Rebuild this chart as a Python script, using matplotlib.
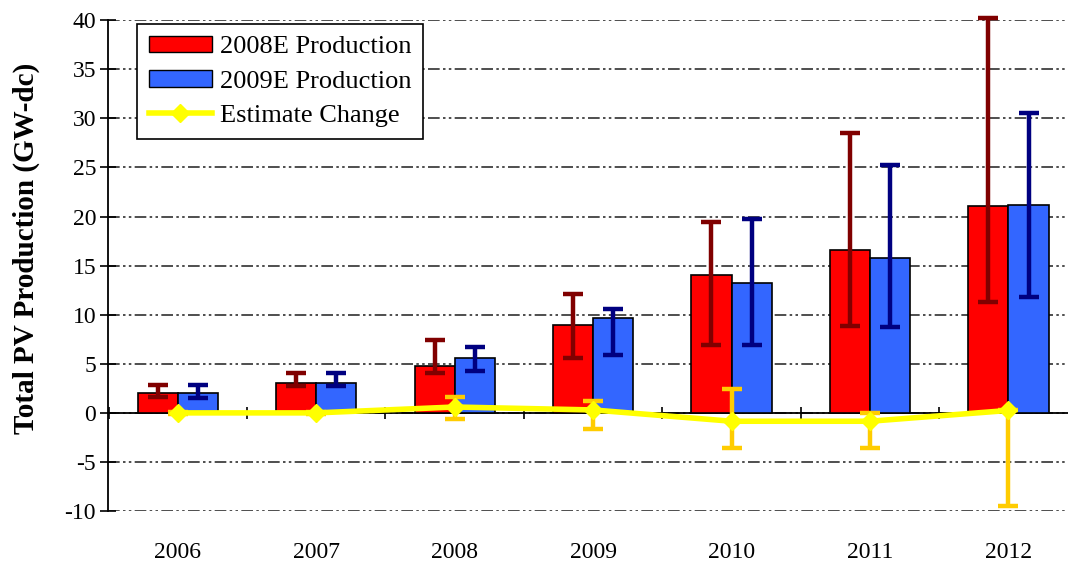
import numpy as np
import matplotlib
matplotlib.use("Agg")
import matplotlib.pyplot as plt
from matplotlib.patches import Patch
from matplotlib.lines import Line2D

years = ["2006", "2007", "2008", "2009", "2010", "2011", "2012"]

prod_2008e = [2.0, 3.0, 4.8, 9.0, 14.0, 16.6, 21.1]
prod_2008e_low = [1.6, 2.7, 4.1, 5.6, 6.9, 8.9, 11.3]
prod_2008e_high = [2.8, 4.1, 7.4, 12.1, 19.4, 28.5, 40.2]

prod_2009e = [2.0, 3.0, 5.6, 9.7, 13.2, 15.8, 21.2]
prod_2009e_low = [1.5, 2.7, 4.3, 5.9, 6.9, 8.8, 11.8]
prod_2009e_high = [2.8, 4.1, 6.7, 10.6, 19.7, 25.2, 30.5]

est_change = [0.0, 0.0, 0.6, 0.3, -0.85, -0.85, 0.25]
est_low = [-0.1, -0.1, -0.6, -1.6, -3.6, -3.6, -9.5]
est_high = [0.1, 0.1, 1.6, 1.2, 2.4, 0.0, 0.3]

plt.rcParams['font.family'] = ['Liberation Serif', 'DejaVu Serif']
plt.rcParams['axes.unicode_minus'] = False

fig = plt.figure(figsize=(10.68, 5.61), dpi=100)
ax = fig.add_axes([0.101, 0.089, 0.899, 0.875])

x = np.arange(len(years))
w = 0.29

def err(vals, lo, hi):
    vals = np.array(vals)
    return [vals - np.array(lo), np.array(hi) - vals]

ax.bar(x - w / 2, prod_2008e, w, color="#ff0000", edgecolor="black", linewidth=1.2, zorder=2)
ax.bar(x + w / 2, prod_2009e, w, color="#3366ff", edgecolor="black", linewidth=1.2, zorder=2)

ax.errorbar(x - w / 2, prod_2008e, yerr=err(prod_2008e, prod_2008e_low, prod_2008e_high),
            fmt="none", ecolor="#800000", elinewidth=3.2, capsize=7, capthick=3.2,
            zorder=3, clip_on=False)
ax.errorbar(x + w / 2, prod_2009e, yerr=err(prod_2009e, prod_2009e_low, prod_2009e_high),
            fmt="none", ecolor="#000080", elinewidth=3.2, capsize=7, capthick=3.2,
            zorder=3, clip_on=False)

# zero line with category divider ticks
zero = ax.secondary_xaxis(0.2)
zero.set_xticks(np.arange(len(years) + 1) - 0.5)
zero.tick_params(direction="inout", length=9, width=1.2, labelbottom=False)
zero.spines["bottom"].set_linewidth(1.3)
zero.set_zorder(1)

ax.errorbar(x, est_change, yerr=err(est_change, est_low, est_high),
            fmt="none", ecolor="#ffcc00", elinewidth=3.2, capsize=7, capthick=3.2,
            zorder=4, clip_on=False)
ax.plot(x, est_change, color="#ffff00", linewidth=4, marker="D",
        markersize=9, zorder=5, clip_on=False)

ax.set_xlim(-0.505, 6.43)
ax.set_ylim(-10, 40)
ax.set_yticks(np.arange(-10, 41, 5))
ax.yaxis.grid(True, color="#303030", linewidth=1.2, linestyle=(0, (7, 2, 1.5, 2, 1.5, 2)))
ax.set_axisbelow(True)

ax.set_xticks(x)
ax.set_xticklabels(years)
ax.tick_params(axis="x", length=0, pad=22, labelsize=17)
ax.tick_params(axis="y", direction="inout", length=11, width=1.2, labelsize=17, pad=3)

for s in ["top", "right", "bottom"]:
    ax.spines[s].set_visible(False)
ax.spines["left"].set_linewidth(1.3)

ax.set_ylabel("Total PV Production (GW-dc)", fontsize=21, fontweight="bold")
ax.yaxis.set_label_coords(-0.071, 0.536)

handles = [
    Patch(facecolor="#ff0000", edgecolor="black", label="2008E Production"),
    Patch(facecolor="#3366ff", edgecolor="black", label="2009E Production"),
    Line2D([], [], color="#ffff00", linewidth=4, marker="D", markersize=9,
           label="Estimate Change"),
]
leg = ax.legend(handles=handles, loc="upper left", bbox_to_anchor=(0.03, 0.993),
                borderaxespad=0, fancybox=False, framealpha=1, edgecolor="black",
                fontsize=19, handlelength=2.4, handleheight=0.6,
                labelspacing=0.45, borderpad=0.45, handletextpad=0.3)
leg.get_frame().set_linewidth(1.2)
leg.set_zorder(10)

fig.savefig("out.png", dpi=100)
